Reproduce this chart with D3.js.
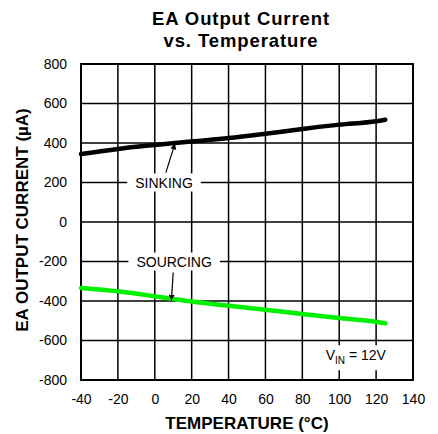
<!DOCTYPE html>
<html>
<head>
<meta charset="utf-8">
<script src="https://cdn.jsdelivr.net/npm/d3@7"></script>
<style>
  html, body { margin: 0; padding: 0; background: #fff; }
  svg { display: block; font-family: Arial, "Liberation Sans", Helvetica, sans-serif; }
</style>
</head>
<body>
<svg id="chart" width="438" height="434"></svg>
<script>
// ---- data ----
const temperatures = [-40, -20, 0, 20, 40, 60, 80, 100, 120, 125];
const sinking = [344, 370, 390, 408, 425, 447, 471, 493, 510, 518];
const sourcing = [-334, -351, -376, -403, -424, -444, -466, -486, -505, -513];
const xTicks = [-40, -20, 0, 20, 40, 60, 80, 100, 120, 140];
const yTicks = [-800, -600, -400, -200, 0, 200, 400, 600, 800];
const titleLines = ["EA Output Current", "vs. Temperature"];
const xTitle = "TEMPERATURE (°C)";
const yTitle = "EA OUTPUT CURRENT (µA)";
// annotations in data units
const labels = [
  { text: "SINKING", x: 5, y: 200, ax0: 6, ay0: 250, ax1: 11, ay1: 398 },
  { text: "SOURCING", x: 10.5, y: -200, ax0: 10, ay0: -256, ax1: 9, ay1: -398 }
];
const vinLabel = { x: 109, y: -700 };

// ---- layout ----
const svg = d3.select("#chart");
const margin = { left: 81, right: 25, top: 64, bottom: 54 };
const W = 438, H = 434;
const x = d3.scaleLinear().domain([-40, 140]).range([margin.left, W - margin.right]);
const y = d3.scaleLinear().domain([-800, 800]).range([H - margin.bottom, margin.top]);
const FONT = "Arial, 'Liberation Sans', Helvetica, sans-serif";

// grid
svg.append("g").selectAll("line.v").data(xTicks).join("line")
  .attr("x1", d => x(d)).attr("x2", d => x(d))
  .attr("y1", y(-800)).attr("y2", y(800))
  .attr("stroke", "#000").attr("stroke-width", 1.5);
svg.append("g").selectAll("line.h").data(yTicks).join("line")
  .attr("x1", x(-40)).attr("x2", x(140))
  .attr("y1", d => y(d)).attr("y2", d => y(d))
  .attr("stroke", "#000").attr("stroke-width", 1.5);
svg.append("rect")
  .attr("x", x(-40)).attr("y", y(800))
  .attr("width", x(140) - x(-40)).attr("height", y(-800) - y(800))
  .attr("fill", "none").attr("stroke", "#000").attr("stroke-width", 2);

// axes tick labels (use d3 axes, hide domain/ticks)
const fmt = d => String(d);
const xAxis = svg.append("g")
  .attr("transform", `translate(0,${y(-800)})`)
  .call(d3.axisBottom(x).tickValues(xTicks).tickSize(0).tickPadding(14).tickFormat(fmt));
xAxis.select(".domain").remove();
xAxis.selectAll("text").attr("font-size", 14).attr("fill", "#000").attr("font-family", FONT);

const yAxis = svg.append("g")
  .attr("transform", `translate(${x(-40)},0)`)
  .call(d3.axisLeft(y).tickValues(yTicks).tickSize(0).tickPadding(14).tickFormat(fmt));
yAxis.select(".domain").remove();
yAxis.selectAll("text").attr("font-size", 14).attr("fill", "#000").attr("font-family", FONT);

// lines
const line = d3.line().x(d => x(d[0])).y(d => y(d[1])).curve(d3.curveMonotoneX);
svg.append("path")
  .attr("d", line(temperatures.map((t, i) => [t, sinking[i]])))
  .attr("fill", "none").attr("stroke", "#000").attr("stroke-width", 4.5)
  .attr("stroke-linecap", "round");
svg.append("path")
  .attr("d", line(temperatures.map((t, i) => [t, sourcing[i]])))
  .attr("fill", "none").attr("stroke", "#00f000").attr("stroke-width", 4.5)
  .attr("stroke-linecap", "round");

// arrow marker
svg.append("defs").append("marker")
  .attr("id", "arrow").attr("viewBox", "0 0 10 10")
  .attr("refX", 10).attr("refY", 5)
  .attr("markerWidth", 6).attr("markerHeight", 8)
  .attr("markerUnits", "userSpaceOnUse")
  .attr("orient", "auto")
  .append("path").attr("d", "M0,0 L10,5 L0,10 z").attr("fill", "#000");

// labels with white boxes
labels.forEach(l => {
  const g = svg.append("g");
  const t = g.append("text")
    .attr("x", x(l.x)).attr("y", y(l.y))
    .attr("text-anchor", "middle").attr("dominant-baseline", "central")
    .attr("font-size", 14).attr("fill", "#000").text(l.text);
  const bb = t.node().getBBox();
  g.insert("rect", "text")
    .attr("x", bb.x - 8).attr("y", bb.y - 1)
    .attr("width", bb.width + 16).attr("height", bb.height + 2)
    .attr("fill", "#fff");
  svg.append("line")
    .attr("x1", x(l.ax0)).attr("y1", y(l.ay0))
    .attr("x2", x(l.ax1)).attr("y2", y(l.ay1))
    .attr("stroke", "#000").attr("stroke-width", 1.2)
    .attr("marker-end", "url(#arrow)");
});

// V_IN label
const vg = svg.append("g");
const vt = vg.append("text")
  .attr("x", x(vinLabel.x)).attr("y", y(vinLabel.y))
  .attr("text-anchor", "middle").attr("font-size", 14).attr("fill", "#000");
vt.append("tspan").text("V");
vt.append("tspan").attr("font-size", 10).attr("dy", 4).text("IN");
vt.append("tspan").attr("dy", -4).text(" = 12V");
const vbb = vt.node().getBBox();
vg.insert("rect", "text")
  .attr("x", vbb.x - 4).attr("y", vbb.y - 2)
  .attr("width", vbb.width + 8).attr("height", vbb.height + 6)
  .attr("fill", "#fff");

// titles
const title = svg.append("text")
  .attr("x", 241).attr("text-anchor", "middle")
  .attr("font-size", 18.5).attr("font-weight", "bold").attr("fill", "#000")
  .attr("letter-spacing", 0.9);
titleLines.forEach((s, i) => {
  title.append("tspan").attr("x", 241).attr("y", 25 + i * 22).text(s);
});

svg.append("text")
  .attr("x", (x(-40) + x(140)) / 2).attr("y", 429)
  .attr("text-anchor", "middle").attr("font-size", 17).attr("font-weight", "bold")
  .attr("fill", "#000").text(xTitle);

svg.append("text")
  .attr("transform", `translate(28,${(y(-800) + y(800)) / 2 - 2}) rotate(-90)`)
  .attr("text-anchor", "middle").attr("font-size", 17).attr("font-weight", "bold")
  .attr("fill", "#000").text(yTitle);
</script>
</body>
</html>
